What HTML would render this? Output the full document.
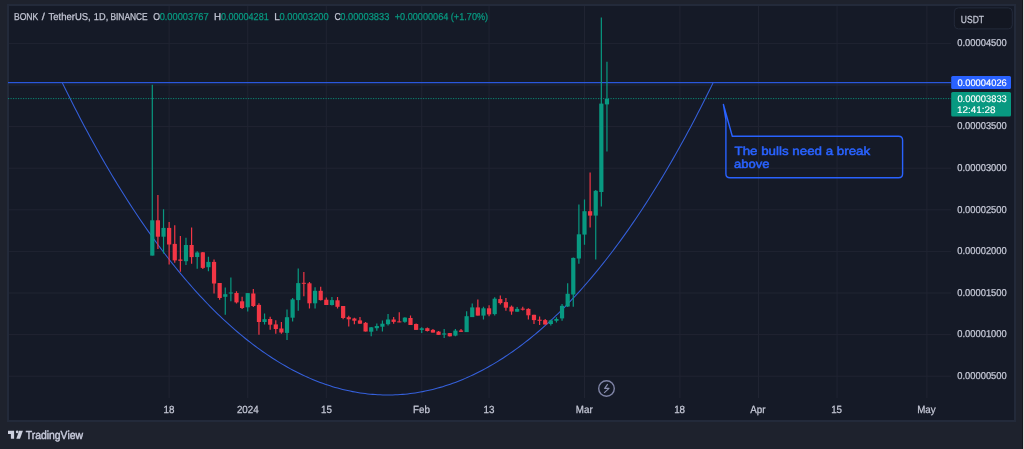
<!DOCTYPE html>
<html><head><meta charset="utf-8"><title>BONK / TetherUS chart</title>
<style>html,body{margin:0;padding:0;background:#1e222d;width:1024px;height:449px;overflow:hidden}svg{display:block}text{text-rendering:geometricPrecision}</style>
</head><body>
<svg width="1024" height="449" viewBox="0 0 1024 449">
<rect x="0" y="0" width="1024" height="449" fill="#1e222d"/>
<rect x="8" y="5" width="1007" height="416" fill="#151a27" stroke="#232a3a" stroke-width="2"/>
<rect x="1022" y="0" width="1" height="449" fill="#15171d"/>
<rect x="1023" y="0" width="1" height="449" fill="#d9d9d9"/>
<path d="M169.14 6V398 M247.72 6V398 M326.3 6V398 M421.72 6V398 M489.08 6V398 M584.5 6V398 M679.92 6V398 M758.5 6V398 M837.09 6V398 M926.89 6V398 M9 376.2H951 M9 334.6H951 M9 293H951 M9 251.4H951 M9 209.8H951 M9 168.2H951 M9 126.6H951 M9 85H951 M9 43.4H951" stroke="#202432" stroke-width="1" fill="none"/>
<path d="M62.35 82.88 L64.85 88 L67.36 93.06 L69.86 98.08 L72.36 103.05 L74.86 107.97 L77.37 112.84 L79.87 117.66 L82.37 122.43 L84.87 127.15 L87.38 131.82 L89.88 136.45 L92.38 141.03 L94.88 145.56 L97.39 150.04 L99.89 154.48 L102.39 158.87 L104.9 163.21 L107.4 167.5 L109.9 171.75 L112.4 175.96 L114.91 180.12 L117.41 184.23 L119.91 188.3 L122.41 192.32 L124.92 196.3 L127.42 200.23 L129.92 204.12 L132.43 207.96 L134.93 211.76 L137.43 215.52 L139.93 219.24 L142.44 222.91 L144.94 226.53 L147.44 230.12 L149.94 233.66 L152.45 237.16 L154.95 240.62 L157.45 244.03 L159.95 247.4 L162.46 250.73 L164.96 254.02 L167.46 257.27 L169.97 260.48 L172.47 263.64 L174.97 266.77 L177.47 269.85 L179.98 272.9 L182.48 275.9 L184.98 278.86 L187.48 281.78 L189.99 284.67 L192.49 287.51 L194.99 290.31 L197.5 293.08 L200 295.8 L202.5 298.48 L205 301.13 L207.51 303.74 L210.01 306.3 L212.51 308.83 L215.01 311.32 L217.52 313.77 L220.02 316.19 L222.52 318.56 L225.02 320.9 L227.53 323.2 L230.03 325.46 L232.53 327.68 L235.04 329.87 L237.54 332.01 L240.04 334.12 L242.54 336.2 L245.05 338.23 L247.55 340.23 L250.05 342.19 L252.55 344.12 L255.06 346 L257.56 347.86 L260.06 349.67 L262.57 351.45 L265.07 353.19 L267.57 354.89 L270.07 356.56 L272.58 358.19 L275.08 359.79 L277.58 361.35 L280.08 362.87 L282.59 364.36 L285.09 365.81 L287.59 367.22 L290.09 368.6 L292.6 369.95 L295.1 371.25 L297.6 372.53 L300.11 373.76 L302.61 374.96 L305.11 376.13 L307.61 377.26 L310.12 378.36 L312.62 379.42 L315.12 380.44 L317.62 381.43 L320.13 382.39 L322.63 383.31 L325.13 384.19 L327.64 385.04 L330.14 385.85 L332.64 386.63 L335.14 387.38 L337.65 388.09 L340.15 388.76 L342.65 389.4 L345.15 390.01 L347.66 390.58 L350.16 391.11 L352.66 391.62 L355.16 392.08 L357.67 392.51 L360.17 392.91 L362.67 393.27 L365.18 393.6 L367.68 393.9 L370.18 394.15 L372.68 394.38 L375.19 394.57 L377.69 394.72 L380.19 394.84 L382.69 394.93 L385.2 394.98 L387.7 395 L390.2 394.98 L392.71 394.93 L395.21 394.84 L397.71 394.72 L400.21 394.57 L402.72 394.38 L405.22 394.15 L407.72 393.9 L410.22 393.6 L412.73 393.27 L415.23 392.91 L417.73 392.51 L420.23 392.08 L422.74 391.62 L425.24 391.11 L427.74 390.58 L430.25 390.01 L432.75 389.4 L435.25 388.76 L437.75 388.09 L440.26 387.38 L442.76 386.63 L445.26 385.85 L447.76 385.04 L450.27 384.19 L452.77 383.31 L455.27 382.39 L457.78 381.43 L460.28 380.44 L462.78 379.42 L465.28 378.36 L467.79 377.26 L470.29 376.13 L472.79 374.96 L475.29 373.76 L477.8 372.53 L480.3 371.25 L482.8 369.95 L485.31 368.6 L487.81 367.22 L490.31 365.81 L492.81 364.36 L495.32 362.87 L497.82 361.35 L500.32 359.79 L502.82 358.19 L505.33 356.56 L507.83 354.89 L510.33 353.19 L512.83 351.45 L515.34 349.67 L517.84 347.86 L520.34 346 L522.85 344.12 L525.35 342.19 L527.85 340.23 L530.35 338.23 L532.86 336.2 L535.36 334.12 L537.86 332.01 L540.36 329.87 L542.87 327.68 L545.37 325.46 L547.87 323.2 L550.38 320.9 L552.88 318.56 L555.38 316.19 L557.88 313.77 L560.39 311.32 L562.89 308.83 L565.39 306.3 L567.89 303.74 L570.4 301.13 L572.9 298.48 L575.4 295.8 L577.9 293.08 L580.41 290.31 L582.91 287.51 L585.41 284.67 L587.92 281.78 L590.42 278.86 L592.92 275.9 L595.42 272.9 L597.93 269.85 L600.43 266.77 L602.93 263.64 L605.43 260.48 L607.94 257.27 L610.44 254.02 L612.94 250.73 L615.44 247.4 L617.95 244.03 L620.45 240.62 L622.95 237.16 L625.46 233.66 L627.96 230.12 L630.46 226.53 L632.96 222.91 L635.47 219.24 L637.97 215.52 L640.47 211.76 L642.97 207.96 L645.48 204.12 L647.98 200.23 L650.48 196.3 L652.99 192.32 L655.49 188.3 L657.99 184.23 L660.49 180.12 L663 175.96 L665.5 171.75 L668 167.5 L670.5 163.21 L673.01 158.87 L675.51 154.48 L678.01 150.04 L680.51 145.56 L683.02 141.03 L685.52 136.45 L688.02 131.82 L690.53 127.15 L693.03 122.43 L695.53 117.66 L698.03 112.84 L700.54 107.97 L703.04 103.05 L705.54 98.08 L708.04 93.06 L710.55 88 L713.05 82.88" stroke="#3560dc" stroke-width="1.05" fill="none" stroke-linejoin="round"/>
<path d="M8 82.6H951" stroke="#2a57dc" stroke-width="1.45"/>
<path d="M8 98.6H951" stroke="#089981" stroke-width="1" stroke-dasharray="1.2 1.3" opacity="0.85"/>
<path d="M152.3 84.8V255.6 M163.53 209.2V253.4 M185.98 237.8V265 M197.2 251.2V268.8 M208.43 256.7V271.2 M225.27 287.5V314.7 M230.88 277.5V301.3 M247.72 293V311.5 M264.56 313.4V324.4 M287.01 309.6V339.9 M292.62 297.9V321.5 M298.24 268.5V310.7 M315.08 287.3V308.6 M331.92 297V305.6 M371.21 327V336.2 M376.82 323.4V330.8 M382.43 320.4V331.5 M388.05 313.9V325.6 M404.88 317.2V322.8 M421.72 327.2V333 M444.18 329V337.9 M455.4 329V336.3 M466.63 311.3V332.1 M472.24 303.4V317.1 M483.47 306.8V319.5 M494.69 297.2V315.4 M517.14 307V311.7 M550.82 319.7V325.6 M556.44 317.3V322.6 M562.05 303.9V320.8 M567.66 283.3V307 M573.28 257.5V306.7 M578.89 204.4V263.7 M584.5 199.5V244.8 M595.73 190V259.5 M601.34 17.5V206.5 M606.95 61.7V151.6" stroke="#089981" stroke-width="1.2"/>
<path d="M157.91 194.9V248.9 M169.14 221.9V264.5 M174.75 225.2V262.8 M180.37 236.1V271.8 M191.59 227.4V263.7 M202.82 252V269 M214.04 259.6V293.5 M219.66 283V299.7 M236.5 291.3V303.5 M242.11 296.8V309 M253.33 289V307 M258.95 303.2V334.8 M270.17 316.8V329.7 M275.79 320.2V333.8 M281.4 322V333.8 M303.85 272.1V296.2 M309.46 281.9V308.6 M320.69 286.7V300.5 M326.3 297.4V305 M337.53 297V308.6 M343.14 306V319.3 M348.75 315.7V326.4 M354.37 317.7V324.3 M359.98 317V323.7 M365.59 322V331.5 M393.66 317V323.7 M399.27 312.3V322.3 M410.5 315.5V325 M416.11 323.5V329.9 M427.34 327.5V331.6 M432.95 329V332.6 M438.56 331V334.9 M449.79 333V336.5 M461.02 329.1V332 M477.85 299.4V315.6 M489.08 305.2V316.2 M500.31 295.4V304.6 M505.92 297.9V310.7 M511.53 305.6V314.7 M522.76 306.7V310.6 M528.37 308.2V319.5 M533.98 314.8V324 M539.6 316.4V324.9 M545.21 319V324.5 M590.11 172.4V227.6" stroke="#f23645" stroke-width="1.2"/>
<g fill="#089981"><rect x="150.2" y="220.3" width="4.2" height="35.3"/><rect x="161.43" y="227.9" width="4.2" height="8.8"/><rect x="183.88" y="245" width="4.2" height="16.2"/><rect x="195.1" y="252.5" width="4.2" height="4.5"/><rect x="206.33" y="261.9" width="4.2" height="5.3"/><rect x="223.17" y="294.2" width="4.2" height="2.6"/><rect x="228.78" y="292.5" width="4.2" height="1"/><rect x="245.62" y="293.1" width="4.2" height="14.2"/><rect x="262.46" y="319.2" width="4.2" height="2.8"/><rect x="284.91" y="317.2" width="4.2" height="15.7"/><rect x="290.52" y="299.4" width="4.2" height="18.3"/><rect x="296.14" y="283.1" width="4.2" height="17"/><rect x="312.98" y="290.8" width="4.2" height="12.5"/><rect x="329.82" y="300.1" width="4.2" height="4.9"/><rect x="369.11" y="327.3" width="4.2" height="4.4"/><rect x="374.72" y="326" width="4.2" height="2.2"/><rect x="380.33" y="323.7" width="4.2" height="3"/><rect x="385.95" y="319.5" width="4.2" height="4.7"/><rect x="402.78" y="317.6" width="4.2" height="4.2"/><rect x="419.62" y="328.3" width="4.2" height="1.6"/><rect x="442.08" y="333.4" width="4.2" height="1.2"/><rect x="453.3" y="330.6" width="4.2" height="5"/><rect x="464.53" y="316.2" width="4.2" height="15.9"/><rect x="470.14" y="307.4" width="4.2" height="9.7"/><rect x="481.37" y="308.3" width="4.2" height="7.3"/><rect x="492.59" y="298.7" width="4.2" height="15.4"/><rect x="515.04" y="308.9" width="4.2" height="2.8"/><rect x="548.72" y="320.4" width="4.2" height="3.6"/><rect x="554.34" y="319" width="4.2" height="1.8"/><rect x="559.95" y="305.8" width="4.2" height="12.6"/><rect x="565.56" y="293.8" width="4.2" height="12.7"/><rect x="571.18" y="257.9" width="4.2" height="36.6"/><rect x="576.79" y="234.3" width="4.2" height="24.2"/><rect x="582.4" y="211.2" width="4.2" height="23.4"/><rect x="593.63" y="190.8" width="4.2" height="24.8"/><rect x="599.24" y="103.6" width="4.2" height="88.4"/><rect x="604.85" y="98.9" width="4.2" height="5.5"/></g>
<g fill="#f23645"><rect x="155.81" y="220.3" width="4.2" height="16.4"/><rect x="167.04" y="227.9" width="4.2" height="16.6"/><rect x="172.65" y="243.9" width="4.2" height="16.5"/><rect x="178.27" y="259.5" width="4.2" height="1.3"/><rect x="189.49" y="245" width="4.2" height="12.1"/><rect x="200.72" y="252.3" width="4.2" height="15.6"/><rect x="211.94" y="261.9" width="4.2" height="21.6"/><rect x="217.56" y="283" width="4.2" height="15"/><rect x="234.4" y="293" width="4.2" height="9.4"/><rect x="240.01" y="301.3" width="4.2" height="6.7"/><rect x="251.23" y="293.5" width="4.2" height="12.5"/><rect x="256.85" y="304.9" width="4.2" height="17.1"/><rect x="268.07" y="319" width="4.2" height="5.7"/><rect x="273.69" y="324.4" width="4.2" height="4.6"/><rect x="279.3" y="328.5" width="4.2" height="4"/><rect x="301.75" y="282.8" width="4.2" height="1"/><rect x="307.36" y="283.3" width="4.2" height="20"/><rect x="318.59" y="290.8" width="4.2" height="9.3"/><rect x="324.2" y="299.7" width="4.2" height="5.3"/><rect x="335.43" y="300.3" width="4.2" height="6.5"/><rect x="341.04" y="306" width="4.2" height="12"/><rect x="346.65" y="317.2" width="4.2" height="2.1"/><rect x="352.27" y="318.5" width="4.2" height="2.2"/><rect x="357.88" y="320.4" width="4.2" height="3.3"/><rect x="363.49" y="322.8" width="4.2" height="8.7"/><rect x="391.56" y="319.5" width="4.2" height="2.4"/><rect x="397.17" y="321.4" width="4.2" height="1"/><rect x="408.4" y="318" width="4.2" height="7"/><rect x="414.01" y="324" width="4.2" height="5.9"/><rect x="425.24" y="328.2" width="4.2" height="2.8"/><rect x="430.85" y="329.9" width="4.2" height="2.7"/><rect x="436.46" y="331.6" width="4.2" height="3.3"/><rect x="447.69" y="333.1" width="4.2" height="3.2"/><rect x="458.92" y="330.5" width="4.2" height="1.3"/><rect x="475.75" y="307.4" width="4.2" height="8.2"/><rect x="486.98" y="308.3" width="4.2" height="6.1"/><rect x="498.21" y="299.1" width="4.2" height="4"/><rect x="503.82" y="302.1" width="4.2" height="5.6"/><rect x="509.43" y="306.7" width="4.2" height="4.8"/><rect x="520.66" y="308.6" width="4.2" height="1.1"/><rect x="526.27" y="308.9" width="4.2" height="6.4"/><rect x="531.88" y="314.8" width="4.2" height="5.3"/><rect x="537.5" y="319.7" width="4.2" height="1.1"/><rect x="543.11" y="320.1" width="4.2" height="4.4"/><rect x="588.01" y="211.2" width="4.2" height="4.4"/></g>
<path d="M723.4 104.5 L732.3 136.3 H898.6 Q902.6 136.3 902.6 140.3 V173.8 Q902.6 177.8 898.6 177.8 H729.9 Q725.9 177.8 725.9 173.8 V120 Z" fill="none" stroke="#2962ff" stroke-width="1.4" stroke-linejoin="round"/>
<text x="734.53" y="154.70" font-family="Liberation Sans, sans-serif" font-size="11.9" fill="#2962ff" textLength="135.70" lengthAdjust="spacingAndGlyphs" stroke="#2962ff" stroke-width="0.5">The bulls need a break</text>
<text x="734.08" y="167.50" font-family="Liberation Sans, sans-serif" font-size="11.9" fill="#2962ff" textLength="35.50" lengthAdjust="spacingAndGlyphs" stroke="#2962ff" stroke-width="0.5">above</text>
<circle cx="606.5" cy="388.5" r="7.8" fill="none" stroke="#7f84a6" stroke-width="1.4"/>
<path d="M607.7 384.2 L604.7 388.4 L609 388.4 L604.1 392.9" fill="none" stroke="#8a8fb0" stroke-width="1.2" stroke-linejoin="round"/>
<text stroke="#c5c8d6" stroke-width="0.25" x="957.33" y="379.00" font-family="Liberation Sans, sans-serif" font-size="10" fill="#c5c8d6" textLength="49.38" lengthAdjust="spacingAndGlyphs">0.00000500</text>
<text stroke="#c5c8d6" stroke-width="0.25" x="957.33" y="337.40" font-family="Liberation Sans, sans-serif" font-size="10" fill="#c5c8d6" textLength="49.38" lengthAdjust="spacingAndGlyphs">0.00001000</text>
<text stroke="#c5c8d6" stroke-width="0.25" x="957.33" y="295.80" font-family="Liberation Sans, sans-serif" font-size="10" fill="#c5c8d6" textLength="49.38" lengthAdjust="spacingAndGlyphs">0.00001500</text>
<text stroke="#c5c8d6" stroke-width="0.25" x="957.33" y="254.20" font-family="Liberation Sans, sans-serif" font-size="10" fill="#c5c8d6" textLength="49.38" lengthAdjust="spacingAndGlyphs">0.00002000</text>
<text stroke="#c5c8d6" stroke-width="0.25" x="957.33" y="212.60" font-family="Liberation Sans, sans-serif" font-size="10" fill="#c5c8d6" textLength="49.38" lengthAdjust="spacingAndGlyphs">0.00002500</text>
<text stroke="#c5c8d6" stroke-width="0.25" x="957.33" y="171.00" font-family="Liberation Sans, sans-serif" font-size="10" fill="#c5c8d6" textLength="49.38" lengthAdjust="spacingAndGlyphs">0.00003000</text>
<text stroke="#c5c8d6" stroke-width="0.25" x="957.33" y="129.40" font-family="Liberation Sans, sans-serif" font-size="10" fill="#c5c8d6" textLength="49.38" lengthAdjust="spacingAndGlyphs">0.00003500</text>
<text stroke="#c5c8d6" stroke-width="0.25" x="957.33" y="46.20" font-family="Liberation Sans, sans-serif" font-size="10" fill="#c5c8d6" textLength="49.38" lengthAdjust="spacingAndGlyphs">0.00004500</text>
<rect x="951.2" y="76.1" width="59.8" height="13" rx="1.5" fill="#2962ff"/>
<text stroke="#ffffff" stroke-width="0.15" x="957.43" y="86.00" font-family="Liberation Sans, sans-serif" font-size="9.6" fill="#ffffff" textLength="49.37" lengthAdjust="spacingAndGlyphs">0.00004026</text>
<rect x="951.2" y="92.1" width="59.8" height="24.3" rx="1.5" fill="#089981"/>
<text stroke="#ffffff" stroke-width="0.15" x="957.43" y="101.80" font-family="Liberation Sans, sans-serif" font-size="9.6" fill="#ffffff" textLength="49.37" lengthAdjust="spacingAndGlyphs">0.00003833</text>
<text stroke="#ffffff" stroke-width="0.15" x="957.01" y="113.10" font-family="Liberation Sans, sans-serif" font-size="9.6" fill="#ffffff" textLength="38.61" lengthAdjust="spacingAndGlyphs">12:41:28</text>
<rect x="954.3" y="7.9" width="58" height="21" rx="4" fill="#131722" stroke="#232a3a" stroke-width="1"/>
<text stroke="#c5c8d6" stroke-width="0.25" x="960.82" y="22.60" font-family="Liberation Sans, sans-serif" font-size="10.3" fill="#c5c8d6" textLength="23.17" lengthAdjust="spacingAndGlyphs">USDT</text>
<text stroke="#c5c8d6" stroke-width="0.25" x="163.55" y="413" font-family="Liberation Sans, sans-serif" font-size="10.4" fill="#c5c8d6" textLength="10.91" lengthAdjust="spacingAndGlyphs">18</text>
<text stroke="#c5c8d6" stroke-width="0.25" x="236.89" y="413" font-family="Liberation Sans, sans-serif" font-size="10.4" fill="#c5c8d6" textLength="21.81" lengthAdjust="spacingAndGlyphs">2024</text>
<text stroke="#c5c8d6" stroke-width="0.25" x="320.95" y="413" font-family="Liberation Sans, sans-serif" font-size="10.4" fill="#c5c8d6" textLength="10.91" lengthAdjust="spacingAndGlyphs">15</text>
<text stroke="#c5c8d6" stroke-width="0.25" x="412.95" y="413" font-family="Liberation Sans, sans-serif" font-size="10.4" fill="#c5c8d6" textLength="16.89" lengthAdjust="spacingAndGlyphs">Feb</text>
<text stroke="#c5c8d6" stroke-width="0.25" x="483.55" y="413" font-family="Liberation Sans, sans-serif" font-size="10.4" fill="#c5c8d6" textLength="10.91" lengthAdjust="spacingAndGlyphs">13</text>
<text stroke="#c5c8d6" stroke-width="0.25" x="575.86" y="413" font-family="Liberation Sans, sans-serif" font-size="10.4" fill="#c5c8d6" textLength="16.88" lengthAdjust="spacingAndGlyphs">Mar</text>
<text stroke="#c5c8d6" stroke-width="0.25" x="674.15" y="413" font-family="Liberation Sans, sans-serif" font-size="10.4" fill="#c5c8d6" textLength="10.91" lengthAdjust="spacingAndGlyphs">18</text>
<text stroke="#c5c8d6" stroke-width="0.25" x="750.27" y="413" font-family="Liberation Sans, sans-serif" font-size="10.4" fill="#c5c8d6" textLength="15.25" lengthAdjust="spacingAndGlyphs">Apr</text>
<text stroke="#c5c8d6" stroke-width="0.25" x="831.15" y="413" font-family="Liberation Sans, sans-serif" font-size="10.4" fill="#c5c8d6" textLength="10.91" lengthAdjust="spacingAndGlyphs">15</text>
<text stroke="#c5c8d6" stroke-width="0.25" x="917.14" y="413" font-family="Liberation Sans, sans-serif" font-size="10.4" fill="#c5c8d6" textLength="18.52" lengthAdjust="spacingAndGlyphs">May</text>
<text stroke="#c5c8d6" stroke-width="0.25" x="13.91" y="19.90" font-family="Liberation Sans, sans-serif" font-size="10" fill="#c5c8d6" textLength="24.31" lengthAdjust="spacingAndGlyphs">BONK</text>
<text stroke="#c5c8d6" stroke-width="0.25" x="41.70" y="19.90" font-family="Liberation Sans, sans-serif" font-size="10" fill="#c5c8d6" textLength="3.17" lengthAdjust="spacingAndGlyphs">/</text>
<text stroke="#c5c8d6" stroke-width="0.25" x="48.61" y="19.90" font-family="Liberation Sans, sans-serif" font-size="10" fill="#c5c8d6" textLength="42.10" lengthAdjust="spacingAndGlyphs">TetherUS,</text>
<text stroke="#c5c8d6" stroke-width="0.25" x="93.86" y="19.90" font-family="Liberation Sans, sans-serif" font-size="10" fill="#c5c8d6" textLength="14.33" lengthAdjust="spacingAndGlyphs">1D,</text>
<text stroke="#c5c8d6" stroke-width="0.25" x="110.43" y="19.90" font-family="Liberation Sans, sans-serif" font-size="10" fill="#c5c8d6" textLength="37.27" lengthAdjust="spacingAndGlyphs">BINANCE</text>
<text stroke="#c5c8d6" stroke-width="0.25" x="153.17" y="19.90" font-family="Liberation Sans, sans-serif" font-size="10" fill="#c5c8d6" textLength="6.75" lengthAdjust="spacingAndGlyphs">O</text>
<text stroke="#089981" stroke-width="0.25" x="159.63" y="19.90" font-family="Liberation Sans, sans-serif" font-size="10" fill="#089981" textLength="49.07" lengthAdjust="spacingAndGlyphs">0.00003767</text>
<text stroke="#c5c8d6" stroke-width="0.25" x="214.11" y="19.90" font-family="Liberation Sans, sans-serif" font-size="10" fill="#c5c8d6" textLength="7.09" lengthAdjust="spacingAndGlyphs">H</text>
<text stroke="#089981" stroke-width="0.25" x="220.94" y="19.90" font-family="Liberation Sans, sans-serif" font-size="10" fill="#089981" textLength="47.75" lengthAdjust="spacingAndGlyphs">0.00004281</text>
<text stroke="#c5c8d6" stroke-width="0.25" x="274.30" y="19.90" font-family="Liberation Sans, sans-serif" font-size="10" fill="#c5c8d6" textLength="5.56" lengthAdjust="spacingAndGlyphs">L</text>
<text stroke="#089981" stroke-width="0.25" x="279.53" y="19.90" font-family="Liberation Sans, sans-serif" font-size="10" fill="#089981" textLength="49.18" lengthAdjust="spacingAndGlyphs">0.00003200</text>
<text stroke="#c5c8d6" stroke-width="0.25" x="334.46" y="19.90" font-family="Liberation Sans, sans-serif" font-size="10" fill="#c5c8d6" textLength="6.30" lengthAdjust="spacingAndGlyphs">C</text>
<text stroke="#089981" stroke-width="0.25" x="340.23" y="19.90" font-family="Liberation Sans, sans-serif" font-size="10" fill="#089981" textLength="49.17" lengthAdjust="spacingAndGlyphs">0.00003833</text>
<text stroke="#089981" stroke-width="0.25" x="394.74" y="19.90" font-family="Liberation Sans, sans-serif" font-size="10" fill="#089981" textLength="93.40" lengthAdjust="spacingAndGlyphs">+0.00000064 (+1.70%)</text>
<g fill="#cdd0de"><path d="M8 430.7h6.1v8h-3.2v-4.6H8z"/><circle cx="17.2" cy="431.95" r="1.35"/><path d="M19.1 430.7h3.8l-2.9 8h-3.7z"/></g>
<text x="25.69" y="439.00" font-family="Liberation Sans, sans-serif" font-size="11.6" fill="#c8cbdc" textLength="57.34" lengthAdjust="spacingAndGlyphs" stroke="#c8cbdc" stroke-width="0.45">TradingView</text>
</svg>
</body></html>
